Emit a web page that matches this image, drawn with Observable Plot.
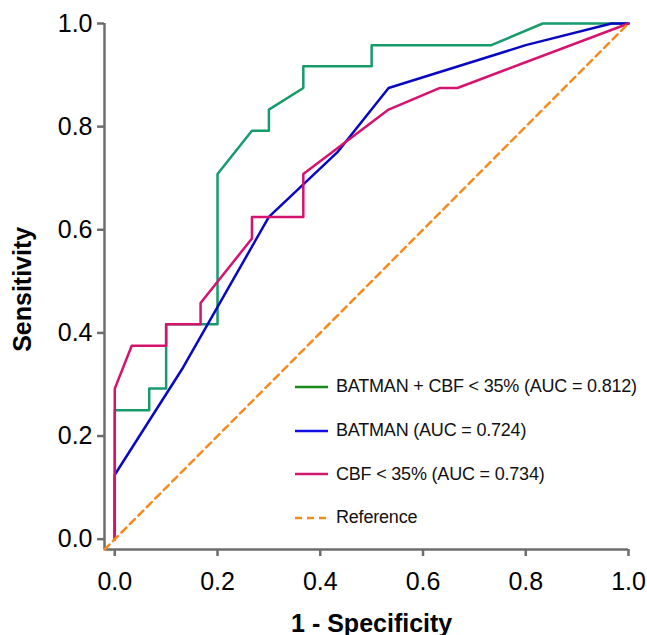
<!DOCTYPE html>
<html>
<head>
<meta charset="utf-8">
<script src="https://cdn.jsdelivr.net/npm/d3@7"></script>
<script src="https://cdn.jsdelivr.net/npm/@observablehq/plot@0.6"></script>
<style>
  html, body { margin: 0; padding: 0; background: #fff; }
  #wrap { position: relative; width: 647px; height: 635px; font-family: Arial, "Liberation Sans", sans-serif; }
  #legend { position: absolute; left: 295px; top: 365px; }
  .row { display: flex; align-items: center; height: 43.7px; font-size: 18px; color: #111; letter-spacing: -0.2px; white-space: nowrap; }
  .row svg { margin-right: 7px; }
</style>
</head>
<body>
<div id="wrap"></div>
<script>
// 1 - Specificity (x) and Sensitivity (y) for each ROC curve
const comboX = [0, 0, 0.067, 0.067, 0.1, 0.1, 0.2, 0.2, 0.267, 0.3, 0.3, 0.367, 0.367, 0.5, 0.5, 0.733, 0.833, 1.0];
const comboY = [0, 0.25, 0.25, 0.292, 0.292, 0.417, 0.417, 0.708, 0.792, 0.792, 0.833, 0.875, 0.917, 0.917, 0.958, 0.958, 1.0, 1.0];

const batmanX = [0, 0, 0.133, 0.3, 0.433, 0.533, 0.8, 0.967, 1.0];
const batmanY = [0, 0.125, 0.333, 0.625, 0.75, 0.875, 0.958, 1.0, 1.0];

const cbfX = [0, 0, 0.033, 0.1, 0.1, 0.167, 0.167, 0.267, 0.267, 0.367, 0.367, 0.533, 0.633, 0.667, 1.0];
const cbfY = [0, 0.292, 0.375, 0.375, 0.417, 0.417, 0.458, 0.583, 0.625, 0.625, 0.708, 0.833, 0.875, 0.875, 1.0];

const refX = [-0.02, 1.0];
const refY = [-0.02, 1.0];

const tickValues = [0, 0.2, 0.4, 0.6, 0.8, 1.0];

const seriesNames = ["BATMAN + CBF < 35% (AUC = 0.812)", "BATMAN (AUC = 0.724)", "CBF < 35% (AUC = 0.734)", "Reference"];
const curveColors = ["#179b6b", "#0808c2", "#d5136f", "#f58b1f"];
const legendColors = ["#178a17", "#1010e6", "#d0186f", "#f58b1f"];

const toPts = (xs, ys) => xs.map((x, i) => ({x, y: ys[i]}));
const combo = toPts(comboX, comboY);
const batman = toPts(batmanX, batmanY);
const cbf = toPts(cbfX, cbfY);
const ref = toPts(refX, refY);

const axisGray = "#6d6d6d";
const font = 'Arial, "Liberation Sans", sans-serif';

const chart = Plot.plot({
  width: 647,
  height: 635,
  marginLeft: 104,
  marginRight: 19,
  marginTop: 23,
  marginBottom: 86,
  style: { fontFamily: font, background: "#fff", color: "#000" },
  x: { domain: [-0.02, 1.0] },
  y: { domain: [-0.02, 1.0] },
  marks: [
    Plot.ruleY([-0.02], { stroke: axisGray, strokeWidth: 2.5 }),
    Plot.ruleX([-0.02], { stroke: axisGray, strokeWidth: 2.5 }),
    Plot.axisX({ ticks: tickValues, tickSize: 7, tickPadding: 16, fontSize: 25, tickFormat: d3.format(".1f"),
                 stroke: axisGray, strokeWidth: 2.5, fill: "#000", label: null }),
    Plot.axisY({ ticks: tickValues, tickSize: 7, tickPadding: 5, fontSize: 25, tickFormat: d3.format(".1f"),
                 stroke: axisGray, strokeWidth: 2.5, fill: "#000", label: null }),
    Plot.line(combo, { x: "x", y: "y", stroke: curveColors[0], strokeWidth: 2.5 }),
    Plot.line(batman, { x: "x", y: "y", stroke: curveColors[1], strokeWidth: 2.5 }),
    Plot.line(cbf, { x: "x", y: "y", stroke: curveColors[2], strokeWidth: 2.5 }),
    Plot.line(ref, { x: "x", y: "y", stroke: curveColors[3], strokeWidth: 2.5, strokeDasharray: "7,5" }),
    Plot.text(["1 - Specificity"], { x: 0.5, frameAnchor: "bottom", dy: 74, lineAnchor: "middle", textAnchor: "middle",
                 text: d => d, fontSize: 25, fontWeight: "bold", fill: "#000" }),
    Plot.text(["Sensitivity"], { y: 0.5, frameAnchor: "left", dx: -82, dy: 8, rotate: -90, lineAnchor: "middle", textAnchor: "middle",
                 text: d => d, fontSize: 25, fontWeight: "bold", fill: "#000" })
  ]
});

const wrap = document.getElementById("wrap");
wrap.appendChild(chart);

const legend = d3.select(wrap).append("div").attr("id", "legend");
seriesNames.forEach((name, i) => {
  const row = legend.append("div").attr("class", "row");
  const svg = row.append("svg").attr("width", 34).attr("height", 6);
  svg.append("line").attr("x1", 0).attr("x2", 33).attr("y1", 3).attr("y2", 3)
    .attr("stroke", legendColors[i]).attr("stroke-width", 2.5)
    .attr("stroke-dasharray", i === 3 ? "7,5" : null);
  row.append("span").text(name);
});
</script>
</body>
</html>
